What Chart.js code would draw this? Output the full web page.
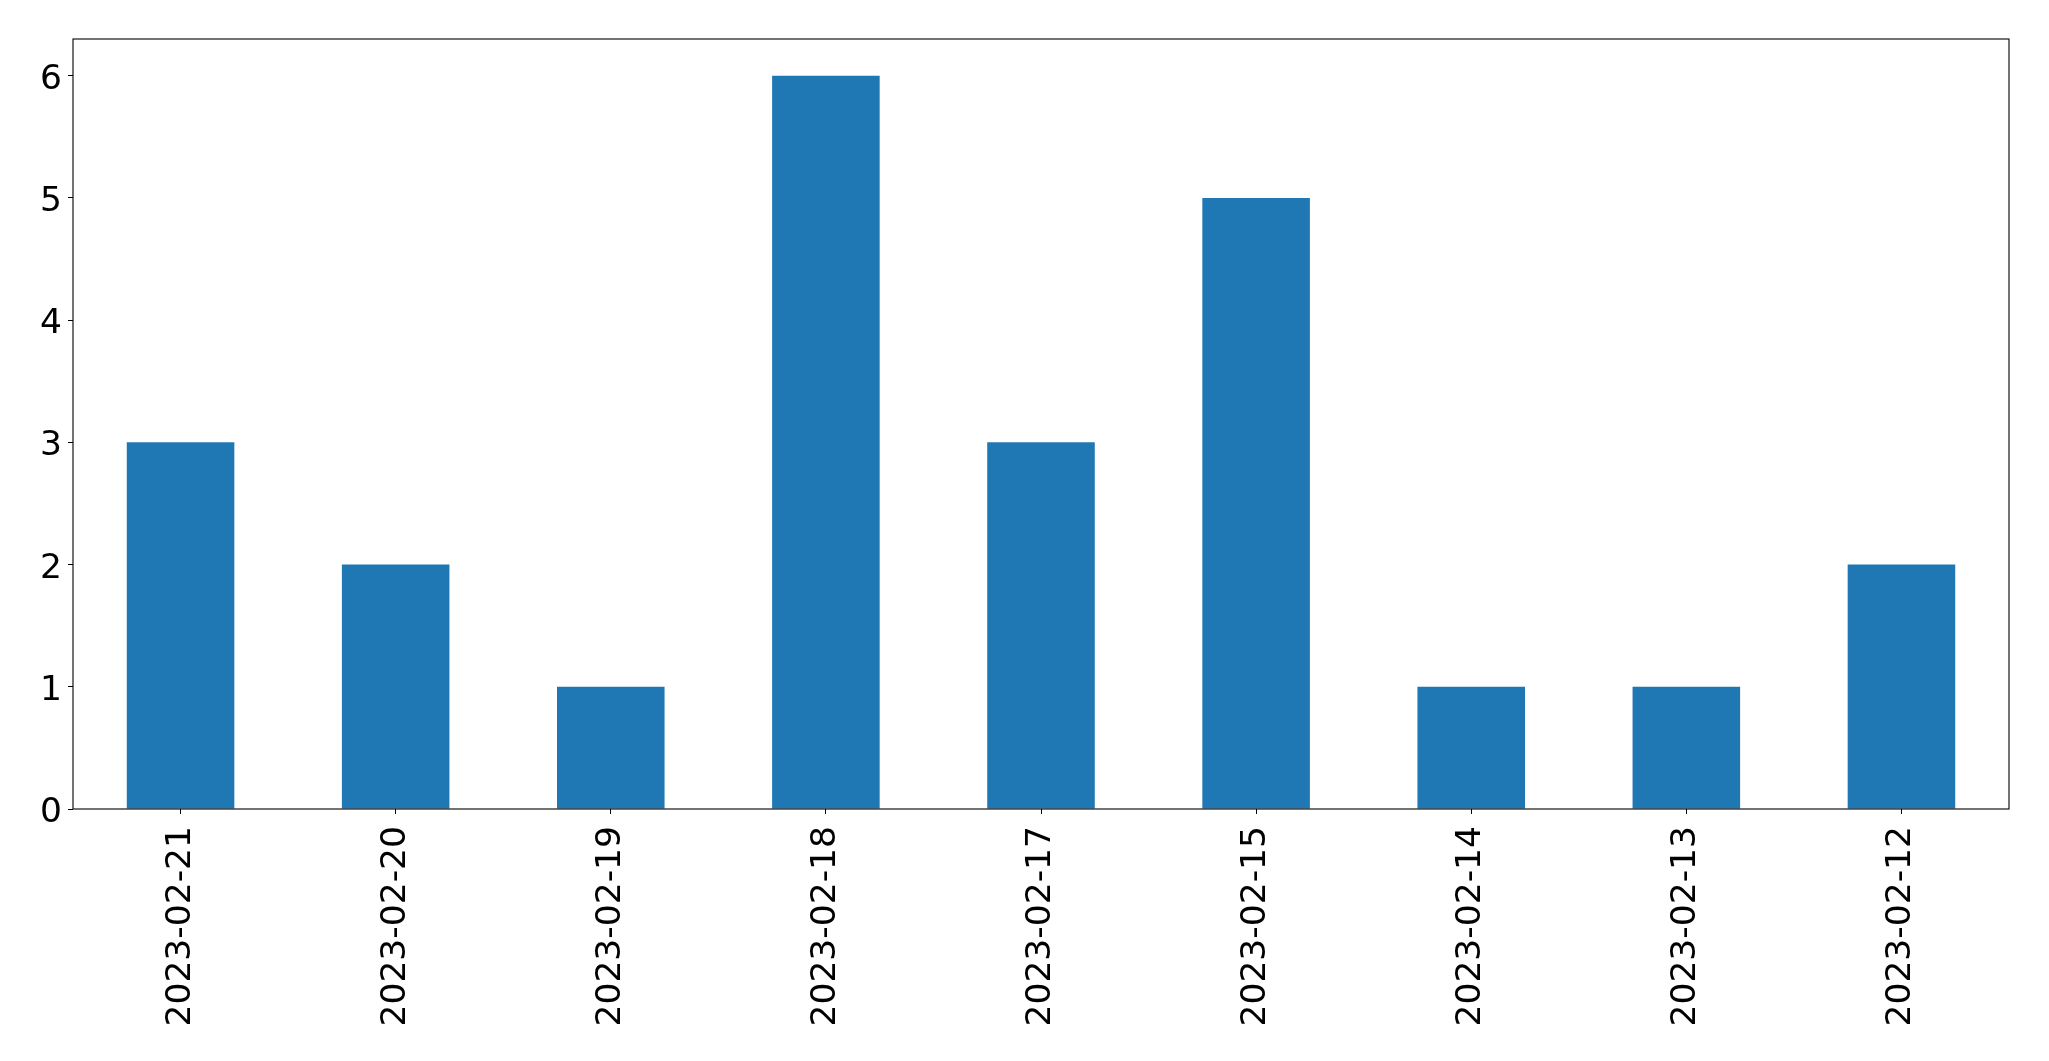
<!DOCTYPE html>
<html>
<head>
<meta charset="utf-8">
<script src="https://cdn.jsdelivr.net/npm/chart.js@4"></script>
<style>
  body { margin: 0; background: #fff; }
  canvas { display: block; }
</style>
</head>
<body>
<canvas id="myChart" width="2049" height="1061"></canvas>
<script>
// 数据
const dates = ['2023-02-21', '2023-02-20', '2023-02-19', '2023-02-18', '2023-02-17', '2023-02-15', '2023-02-14', '2023-02-13', '2023-02-12']
const counts = [3, 2, 1, 6, 3, 5, 1, 1, 2]
const yTicks = [0, 1, 2, 3, 4, 5, 6]

const ctx = document.getElementById('myChart').getContext('2d')

// 画四周的边框
const frame = {
  id: 'frame',
  afterDraw(chart) {
    const a = chart.chartArea
    const c = chart.ctx
    c.save()
    c.strokeStyle = '#000'
    c.lineWidth = 1.1
    c.strokeRect(a.left, a.top, a.right - a.left, a.bottom - a.top)
    c.restore()
  }
}

const myChart = new Chart(ctx, {
  type: 'bar',
  data: {
    labels: dates,
    datasets: [{
      data: counts,
      backgroundColor: '#1f77b4',
      borderWidth: 0,
      categoryPercentage: 1,
      barPercentage: 0.5
    }]
  },
  options: {
    responsive: false,
    animation: false,
    layout: { padding: { top: 39, right: 40, left: 0, bottom: 0 } },
    plugins: {
      legend: { display: false },
      tooltip: { enabled: false }
    },
    scales: {
      x: {
        afterFit(scale) { scale.height = 252 },
        grid: { offset: false, drawOnChartArea: false, tickLength: 5, tickColor: '#000', color: '#000' },
        border: { display: false },
        ticks: {
          minRotation: 90,
          maxRotation: 90,
          autoSkip: false,
          padding: 12,
          color: '#000',
          font: { family: 'DejaVu Sans', size: 34.5 }
        }
      },
      y: {
        min: 0,
        max: 6.3,
        afterFit(scale) { scale.width = 73 },
        afterBuildTicks(scale) { scale.ticks = yTicks.map(v => ({ value: v })) },
        grid: { drawOnChartArea: false, tickLength: 5, tickColor: '#000', color: '#000' },
        border: { display: false },
        ticks: {
          padding: 6,
          labelOffset: 4,
          color: '#000',
          font: { family: 'DejaVu Sans', size: 34.5 }
        }
      }
    }
  },
  plugins: [frame]
})
</script>
</body>
</html>
